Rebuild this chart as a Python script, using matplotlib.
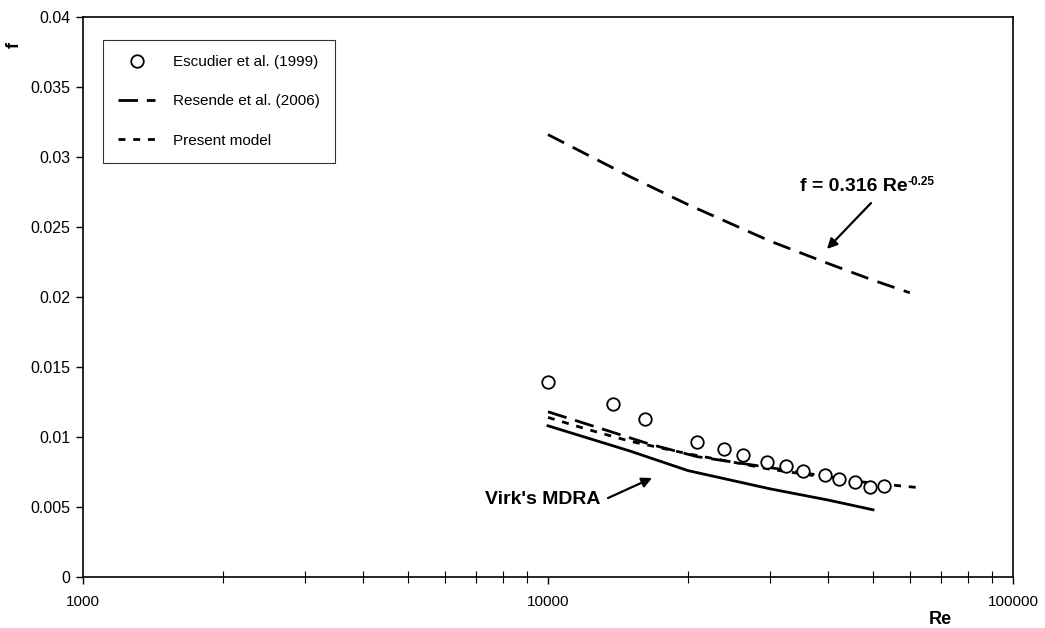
import numpy as np
import matplotlib
matplotlib.use('Agg')
import matplotlib.pyplot as plt
from matplotlib.ticker import FuncFormatter, LogLocator, FixedLocator

plt.rcParams['font.family'] = ['Liberation Sans', 'DejaVu Sans']

# Escudier et al. (1999) experimental points
esc_re = [10000, 13800, 16200, 20900, 23900, 26300, 29600, 32500, 35400, 39400, 42300, 45700, 49300, 52800]
esc_f = [0.0139, 0.01236, 0.01129, 0.00964, 0.00914, 0.00871, 0.00821, 0.00793, 0.00757, 0.00729, 0.0070, 0.00679, 0.00643, 0.0065]

# Resende et al. (2006): Newtonian (Blasius) curve
bla_re = [10000, 15000, 20000, 30000, 40000, 50000, 60000]
bla_f = [0.0316, 0.0286, 0.0266, 0.0240, 0.0224, 0.0212, 0.0203]

# Resende et al. (2006): polymer solution
res_re = [10000, 13300, 16500, 20900, 26300, 33100, 43000, 52000]
res_f = [0.0118, 0.0105, 0.0095, 0.0086, 0.0081, 0.0076, 0.0070, 0.0066]

# Present model
mod_re = [10000, 12000, 15000, 20000, 25000, 30000, 40000, 50000, 62000]
mod_f = [0.0114, 0.0106, 0.0097, 0.0088, 0.0082, 0.0077, 0.0071, 0.0067, 0.0064]

# Virk's maximum drag reduction asymptote
virk_re = [10000, 15000, 20000, 30000, 40000, 50000]
virk_f = [0.0108, 0.0090, 0.0076, 0.0063, 0.0055, 0.0048]

fig = plt.figure(figsize=(10.45, 6.28), dpi=100)
ax = fig.add_axes([83/1045, 1-577/628, 930/1045, 560/628])

ax.plot(esc_re, esc_f, 'o', mfc='white', mec='black', ms=9, mew=1.3, ls='none',
        label='Escudier et al. (1999)', zorder=3)
ax.plot(res_re, res_f, color='black', lw=2.0, dashes=(7, 3.2), label='Resende et al. (2006)')
ax.plot(bla_re, bla_f, color='black', lw=2.0, dashes=(6.5, 3.5))
ax.plot(mod_re, mod_f, color='black', lw=2.0, dashes=(2.5, 2.8), label='Present model')
ax.plot(virk_re, virk_f, color='black', lw=2.0)

ax.set_xscale('log')
ax.set_xlim(1000, 100000)
ax.set_ylim(0, 0.04)

ax.xaxis.set_major_locator(FixedLocator([1000, 10000, 100000]))
ax.xaxis.set_minor_locator(LogLocator(base=10, subs=np.arange(2, 10)))
ax.xaxis.set_major_formatter(FuncFormatter(lambda v, p: '%d' % v))
ax.xaxis.set_minor_formatter(FuncFormatter(lambda v, p: ''))
ax.set_yticks(np.arange(0, 0.0401, 0.005))
ax.yaxis.set_major_formatter(FuncFormatter(lambda v, p: '%g' % round(v, 4)))

ax.tick_params(axis='x', which='major', direction='out', length=5, width=1, labelsize=11, pad=8)
ax.tick_params(axis='x', which='minor', direction='inout', length=8, width=0.8)
ax.tick_params(axis='y', which='major', direction='out', length=5, width=1, labelsize=11.5, pad=4)
for s in ax.spines.values():
    s.set_linewidth(1.2)

# axis titles sit in the corners, as in the original
fig.text(940/1045, 1-619/628, 'Re', fontsize=13, fontweight='bold', ha='center', va='center')
fig.text(14/1045, 1-45/628, 'f', fontsize=13, fontweight='bold', ha='center', va='center', rotation=90)

leg = ax.legend(loc='upper left', bbox_to_anchor=(0.0215, 0.959), fontsize=11,
                frameon=True, fancybox=False, edgecolor='black', borderpad=1.0,
                labelspacing=1.65, handlelength=2.4, handletextpad=1.2, borderaxespad=0)
leg.get_frame().set_linewidth(0.8)

# Blasius label with small superscript
t = ax.text(34800, 0.0279, 'f = 0.316 Re', fontsize=14, fontweight='bold', va='center', ha='left')
ax.annotate('-0.25', xy=(1.0, 0.78), xycoords=t, fontsize=8.5, fontweight='bold',
            va='center', ha='left')
ax.annotate('', xy=(39800, 0.02343), xytext=(49500, 0.02671),
            arrowprops=dict(arrowstyle='-|>', color='black', lw=1.6, shrinkA=0, shrinkB=0,
                            mutation_scale=15))

ax.text(13000, 0.0055, "Virk's MDRA", fontsize=14, fontweight='bold', va='center', ha='right')
ax.annotate('', xy=(16740, 0.00707), xytext=(13460, 0.00564),
            arrowprops=dict(arrowstyle='-|>', color='black', lw=1.6, shrinkA=0, shrinkB=0,
                            mutation_scale=15))

plt.savefig('out.png', dpi=100)
